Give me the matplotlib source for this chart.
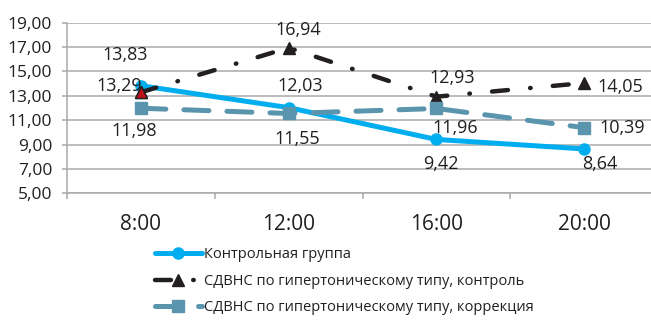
import matplotlib
matplotlib.use("Agg")
import matplotlib.pyplot as plt
from matplotlib.ticker import FixedLocator, FuncFormatter

plt.rcParams['font.family'] = ['Open Sans', 'DejaVu Sans']
plt.rcParams['lines.scale_dashes'] = False

# --- data -------------------------------------------------------------
times = ["8:00", "12:00", "16:00", "20:00"]
control_group = [13.83, 12.03, 9.42, 8.64]
sdvns_control = [13.29, 16.94, 12.93, 14.05]
sdvns_correction = [11.98, 11.55, 11.96, 10.39]
series_names = [
    "Контрольная группа",
    "СДВНС по гипертоническому типу, контроль",
    "СДВНС по гипертоническому типу, коррекция",
]
y_ticks = [5, 7, 9, 11, 13, 15, 17, 19]

# label offsets in pixels (dx, dy) for each point of each series
off_control = [(-16, 31), (12, 22), (5, -25), (16, -15)]
off_sdvns_ctrl = [(-22, 6), (10, 18), (16, 19), (36, -4)]
off_sdvns_corr = [(-7, -23), (9, -26), (19, -20), (38, 0)]

c_blue = "#00AEEF"
c_black = "#231F20"
c_corr = "#5B95AD"
c_red = "#C0121C"
c_grid = "#A7A9AC"
c_text = "#231F20"

W, H = 651, 320
fig = plt.figure(figsize=(W / 100, H / 100), dpi=100)
ax = fig.add_axes([67 / W, 1 - 193.3 / H, (658 - 67) / W, (193.3 - 22.7) / H])

x = list(range(len(times)))

ax.plot(x, control_group, color=c_blue, lw=3.6, marker='o', ms=8,
        solid_capstyle='round', zorder=3, label=series_names[0])
ax.plot(x, sdvns_control, color=c_black, lw=3.2, marker='^', ms=9,
        linestyle=(0, (11.5, 16, 0.4, 16)), dash_capstyle='round',
        zorder=4, label=series_names[1])
ax.plot(x[:1], sdvns_control[:1], linestyle='none', marker='^', ms=9,
        markerfacecolor=c_red, markeredgecolor=c_black, markeredgewidth=1.0,
        zorder=6)
ax.plot(x, sdvns_correction, color=c_corr, lw=3.6, marker='s', ms=8.5,
        linestyle=(0, (18, 13)), dash_capstyle='round',
        zorder=5, label=series_names[2])


def fmt(v):
    return f"{v:.2f}".replace(".", ",")


for vals, offs in ((control_group, off_control),
                   (sdvns_control, off_sdvns_ctrl),
                   (sdvns_correction, off_sdvns_corr)):
    for xi, v, (dx, dy) in zip(x, vals, offs):
        ax.annotate(fmt(v), (xi, v), xytext=(dx, dy),
                    textcoords='offset pixels', ha='center', va='center',
                    fontsize=13, color=c_text, zorder=7)

ax.set_xlim(-0.5, len(times) - 0.5)
ax.set_ylim(5, 19)
ax.yaxis.set_major_locator(FixedLocator(y_ticks))
ax.yaxis.set_major_formatter(FuncFormatter(lambda v, p: fmt(v)))
ax.grid(axis='y', color=c_grid, lw=1.1)
ax.set_axisbelow(True)

ax.set_xticks(x)
ax.set_xticklabels(times)
ax.set_xticks([i - 0.5 for i in range(len(times) + 1)], minor=True)
ax.tick_params(axis='x', which='major', length=0, pad=15, labelsize=15,
               labelcolor=c_text)
ax.tick_params(axis='x', which='minor', length=4.3, width=1.1,
               color=c_grid, direction='out')
ax.tick_params(axis='y', length=3.6, width=1.1, color=c_grid, pad=7,
               labelsize=12.5, labelcolor=c_text)

for s in ('top', 'right'):
    ax.spines[s].set_visible(False)
for s in ('left', 'bottom'):
    ax.spines[s].set_color(c_grid)
    ax.spines[s].set_linewidth(1.1)

leg = fig.legend(loc='upper left', bbox_to_anchor=(155 / W, 1 - 247 / H),
                 frameon=False, fontsize=10.5, handlelength=3.2,
                 handletextpad=0.15, labelspacing=0.8, borderpad=0,
                 borderaxespad=0, numpoints=1)
for t in leg.get_texts():
    t.set_color(c_text)

fig.savefig("out.png", dpi=100)
